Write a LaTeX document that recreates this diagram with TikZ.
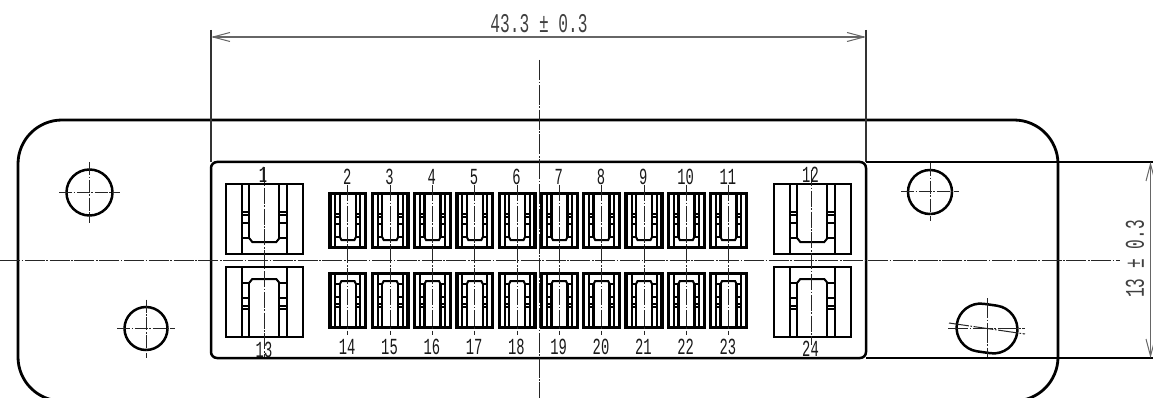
\documentclass[tikz,border=0pt]{standalone}
\usepackage{fontspec}
\usetikzlibrary{arrows.meta}
\newfontfamily\drawfont[FakeStretch=0.6]{Liberation Mono}
\tikzset{
  x=1pt,y=-1pt,
  outline/.style={draw=black,line width=2.5pt},
  thinline/.style={draw=black,line width=1.2pt},
  conbig/.style={draw=black,line width=2pt},
  consmall/.style={draw=black,line width=2pt},
  conbox/.style={draw=black,line width=3.3pt},
  center/.style={draw=black!85,line width=1pt,dash pattern=on 20pt off 1.6pt on 1.6pt off 1.6pt},
  shortcenter/.style={draw=black!85,line width=1pt,dash pattern=on 16pt off 1.6pt on 1.6pt off 1.6pt},
  dimline/.style={draw=black!60,line width=1.3pt,{Straight Barb[length=17pt,width=9pt,line width=1pt]}-{Straight Barb[length=17pt,width=9pt,line width=1pt]}},
  dimtext/.style={font=\drawfont\fontsize{27}{27}\selectfont,text=black!75,inner sep=0pt},
  pinlabel/.style={font=\drawfont\fontsize{23}{23}\selectfont,text=black!90,inner sep=0pt},
}
\newcommand{\bigconn}[2]{%
\begin{scope}[shift={(#1,260.5)},yscale=#2]
  \draw[conbig] (-38.3,-76.2) rectangle (38.3,-6.8);
  \draw[conbig] (-22.5,-76.2) -- (-22.5,-6.8) (22.5,-76.2) -- (22.5,-6.8);
  \draw[conbig] (-15,-76.2) -- (-15,-22.2) -- (-22.5,-22.2);
  \draw[conbig] (15,-76.2) -- (15,-22.2) -- (22.5,-22.2);
  \draw[conbig] (-15,-22.2) -- (-12,-18.5) -- (12,-18.5) -- (15,-22.2);
  \foreach \yy in {-48.5,-45.5,-37.5}{
    \draw[conbig] (-22.5,\yy) -- (-15,\yy) (15,\yy) -- (22.5,\yy);
  }
\end{scope}}
\newcommand{\smallconn}[2]{%
\begin{scope}[shift={(#1,260.5)},yscale=#2]
  \draw[conbox] (-17.9,-66.8) rectangle (17.9,-13.2);
  \draw[consmall] (-12.5,-66.8) -- (-12.5,-13.2) (12.5,-66.8) -- (12.5,-13.2);
  \draw[conbig,line width=2.5pt] (-8,-66.8) -- (-8,-23.5) -- (-12.5,-23.5);
  \draw[conbig,line width=2.5pt] (8,-66.8) -- (8,-23.5) -- (12.5,-23.5);
  \draw[consmall] (-8,-23.5) -- (-6.5,-20.5) -- (6.5,-20.5) -- (8,-23.5);
  \foreach \yy in {-46.2,-43.2,-36.2}{
    \draw[consmall] (-12.5,\yy) -- (-8,\yy) (8,\yy) -- (12.5,\yy);
  }
\end{scope}}
\begin{document}
\begin{tikzpicture}
\clip (0,0) rectangle (1153,398);
\fill[white] (0,0) rectangle (1153,398);
% plate and panel
\draw[outline,line width=2.8pt,rounded corners=44pt] (18,120) rectangle (1058,401);
\draw[outline,rounded corners=6pt] (211,162) rectangle (866,358);
% connectors
\bigconn{264.3}{1}
\bigconn{264.3}{-1}
\bigconn{812.3}{1}
\bigconn{812.3}{-1}
\foreach \i in {0,...,9}{
  \pgfmathsetmacro{\cx}{347.9+42.3*\i}
  \smallconn{\cx}{1}
  \smallconn{\cx}{-1}
  \coordinate (ct\i) at (\cx,185);
  \coordinate (cb\i) at (\cx,335);
  \draw[shortcenter] (ct\i) -- (cb\i);
  \pgfmathtruncatemacro{\nt}{\i+2}
  \pgfmathtruncatemacro{\nb}{\i+14}
  \node[pinlabel] (lt\i) at (\cx-.7,177) {\nt};
  \node[pinlabel] (lb\i) at (\cx-.7,347) {\nb};
}
% big connector axes
\coordinate (a1) at (264.3,167); \coordinate (a2) at (264.3,357);
\coordinate (a3) at (811.5,170); \coordinate (a4) at (811.5,345);
\draw[shortcenter] (a1) -- (a2);
\draw[shortcenter] (a3) -- (a4);
\node[pinlabel] (l1) at (263,175) {1};
\node[pinlabel] (l13) at (264,350) {13};
\node[pinlabel] (l12) at (810.5,175) {12};
\node[pinlabel] (l24) at (810.5,349) {24};
% main centre lines
\coordinate (hl) at (0,260); \coordinate (hr) at (1120,260);
\coordinate (vt) at (539,60); \coordinate (vb) at (539,398);
\draw[center] (hl) -- (hr);
\draw[center] (vt) -- (vb);
% round holes
\foreach \hx/\hy/\hr/\ext in {89.5/192.5/23/30.5, 146/328.5/21.5/29, 930/192/22/29}{
  \draw[outline] (\hx,\hy) circle[radius=\hr];
  \draw[shortcenter,dash pattern=on 13pt off 1.6pt on 1.6pt off 1.6pt] (\hx-\ext,\hy) -- (\hx+\ext,\hy);
  \draw[shortcenter,dash pattern=on 13pt off 1.6pt on 1.6pt off 1.6pt] (\hx,\hy-\ext) -- (\hx,\hy+\ext);
}
% obround hole
\begin{scope}[shift={(987,328.5)},rotate=-8]
  \draw[outline] (-6.5,-24) -- (6.5,-24)
    .. controls (20,-24) and (30.5,-13) .. (30.5,0)
    .. controls (30.5,13) and (20,24) .. (6.5,24)
    -- (-6.5,24)
    .. controls (-20,24) and (-30.5,13) .. (-30.5,0)
    .. controls (-30.5,-13) and (-20,-24) .. (-6.5,-24) -- cycle;
\end{scope}
\coordinate (o1) at (948,328.5); \coordinate (o2) at (1025,328.5);
\coordinate (o3) at (987,298); \coordinate (o4) at (987,358);
\coordinate (o5) at (949,323); \coordinate (o6) at (1025,334);
\draw[shortcenter,dash pattern=on 20pt off 1.6pt on 1.6pt off 1.6pt] (o1) -- (o2);
\draw[shortcenter,dash pattern=on 20pt off 1.6pt on 1.6pt off 1.6pt] (o5) -- (o6);
\draw[shortcenter,dash pattern=on 20pt off 1.6pt on 1.6pt off 1.6pt] (o3) -- (o4);
% dimensions
\coordinate (d1) at (211,30); \coordinate (d1b) at (211,162);
\coordinate (d2) at (866,30); \coordinate (d2b) at (866,162);
\draw[thinline,draw=black!80] (d1) -- (d1b);
\draw[thinline,draw=black!80] (d2) -- (d2b);
\coordinate (d3) at (211,37); \coordinate (d4) at (866,37);
\draw[dimline] (d3) -- (d4);
\node[dimtext] (dimh) at (539,23.5) {43.3 ± 0.3};
\coordinate (e1) at (866,162); \coordinate (e1b) at (1153,162);
\coordinate (e2) at (866,358); \coordinate (e2b) at (1153,358);
\draw[thinline] (e1) -- (e1b);
\draw[thinline] (e2) -- (e2b);
\coordinate (d5) at (1150.5,162); \coordinate (d6) at (1150.5,358);
\draw[dimline] (d5) -- (d6);
\node[dimtext,rotate=90] (dimv) at (1135,259) {13 ± 0.3};
\end{tikzpicture}
\end{document}
